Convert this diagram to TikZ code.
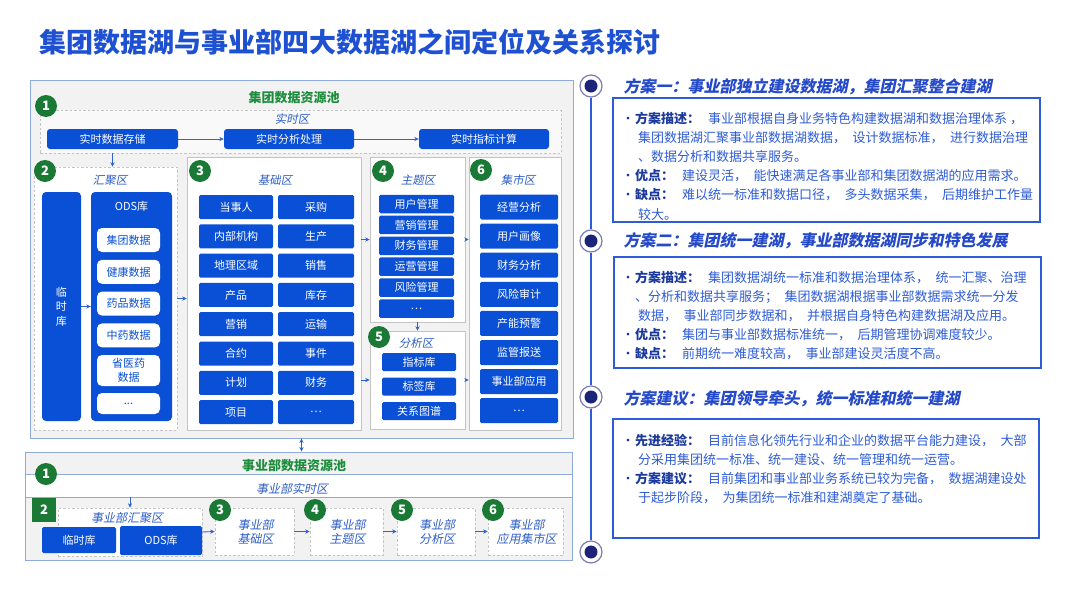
\documentclass[tikz,border=0pt]{standalone}
\usepackage{fontspec}
\setmainfont{Noto Sans CJK SC}
\newfontfamily\slantfont{Noto Sans CJK SC}[FakeSlant=0.2]
\usetikzlibrary{arrows.meta,calc,fit}
\definecolor{cellblue}{HTML}{0A50D6}
\definecolor{titleblue}{HTML}{1E50D2}
\definecolor{labelblue}{HTML}{2F5FC8}
\definecolor{badgegreen}{HTML}{1A7A35}
\definecolor{poolgreen}{HTML}{1E8E3E}
\definecolor{poolgray}{HTML}{F2F2F2}
\definecolor{poolline}{HTML}{8FAADC}
\definecolor{zonegray}{HTML}{C4C4C4}
\definecolor{arrowblue}{HTML}{2F62D0}
\definecolor{panelblue}{HTML}{2D5BDA}
\definecolor{headblue}{HTML}{2449C9}
\definecolor{textblue}{HTML}{2E5CD6}
\definecolor{darkblue}{HTML}{1C3A9E}
\definecolor{ringgray}{HTML}{7A7DB0}
\definecolor{dotnavy}{HTML}{1A2479}

\newcommand\bulletlabel[1]{\makebox[14pt][c]{\color{darkblue}·}{\bfseries\color{darkblue}#1}\hspace{8pt}}
\newcommand\contindent{\hspace*{17pt}}
\newcommand\jgap{\hspace{0.5em}}

\begin{document}
\begin{tikzpicture}[
  x=1pt,
  y=-1pt,
  >={Stealth[length=4.5pt,width=4.2pt]},
  pool/.style={draw=poolline,fill=poolgray,line width=0.9pt,inner sep=0pt},
  zone/.style={draw=zonegray,fill=white,line width=0.6pt,inner sep=0pt},
  dashzone/.style={zone,dash pattern=on 2.5pt off 2pt},
  cell/.style={fill=cellblue,text=white,rounded corners=1.5pt,inner sep=0pt,
    font=\fontsize{11}{13}\selectfont},
  odscell/.style={fill=white,text=cellblue,rounded corners=5pt,minimum width=63pt,
    inner sep=0pt,align=center,font=\fontsize{11}{13.5}\selectfont},
  badge/.style={circle,fill=badgegreen,text=white,minimum size=22pt,inner sep=0pt,
    font=\bfseries\fontsize{13}{13}\selectfont},
  zonelabel/.style={text=labelblue,font=\slantfont\fontsize{11.5}{13}\selectfont},
  pooltitle/.style={text=poolgreen,font=\bfseries\fontsize{13}{15}\selectfont},
  flow/.style={->,draw=arrowblue,line width=0.9pt},
  ring/.style={circle,draw=ringgray,fill=white,line width=1.2pt,minimum size=22pt,
    inner sep=0pt,path picture={\fill[dotnavy] (path picture bounding box.center) circle (6.5pt);}},
  panel/.style={draw=panelblue,fill=white,line width=1.4pt,inner sep=0pt},
  panelhead/.style={anchor=west,text=headblue,font=\slantfont\bfseries\fontsize{16}{18}\selectfont},
  paneltext/.style={anchor=north west,align=left,inner sep=0pt,text=textblue,
    font=\fontsize{13}{19.2}\selectfont}
]
\useasboundingbox (0,0) rectangle (1080,608);
\fill[white] (0,0) rectangle (1080,608);

% Title
\node[anchor=west,text=titleblue,font=\bfseries\fontsize{27}{31}\selectfont] (title)
  at (36,42) {集团数据湖与事业部四大数据湖之间定位及关系探讨};

% Group data pool
\node[pool,fit={(30,80) (573,438)}] (grouppool) {};
\node[pooltitle] (grouptitle) at (294,98) {集团数据资源池};

% Real-time zone
\node[dashzone,fill=white!55!poolgray,fit={(40,110) (561,153)}] (rtzone) {};
\node[zonelabel] (rtlabel) at (292,119) {实时区};
\node[badge] (badge1) at (46,106) {1};
\node[cell,rounded corners=3pt,minimum width=131pt,minimum height=20pt] (rtstore) at (112.5,139) {实时数据存储};
\node[cell,rounded corners=3pt,minimum width=130pt,minimum height=20pt] (rtproc) at (289,139) {实时分析处理};
\node[cell,rounded corners=3pt,minimum width=130pt,minimum height=20pt] (rtcalc) at (484,139) {实时指标计算};
\draw[flow] (rtstore.east) -- (rtproc.west);
\draw[flow] (rtproc.east) -- (rtcalc.west);

% Gathering zone
\node[dashzone,fit={(34,167) (177,430)}] (hjzone) {};
\node[zonelabel] (hjlabel) at (110,180) {汇聚区};
\node[badge] (badge2) at (45,171) {2};
\node[cell,rounded corners=4pt,minimum width=39pt,minimum height=229pt,align=center,
  font=\fontsize{11}{14.5}\selectfont] (lsk) at (61.5,306.5) {临\\时\\库};
\node[cell,rounded corners=4pt,minimum width=81pt,minimum height=229pt] (ods) at (131.5,306.5) {};
\node[text=white,font=\fontsize{11}{13}\selectfont] (odslabel) at (131.5,206) {ODS库};
\foreach \t [count=\i] in {集团数据,健康数据,药品数据,中药数据}{
  \node[odscell,minimum height=24pt] (odsitem\i) at (128.5,{240+(\i-1)*31.8}) {\t};
}
\node[odscell,minimum height=31pt] (odsitem5) at (128.5,370.5) {省医药\\数据};
\node[odscell,minimum height=21pt] (odsitem6) at (128.5,403.5) {...};
\draw[flow] (rtstore.south |- rtzone.south) -- (rtstore.south |- hjzone.north);
\draw[flow] (lsk.east) -- (ods.west);

% Base zone
\node[zone,fit={(187,157) (361,430)}] (jczone) {};
\node[zonelabel] (jclabel) at (275,180) {基础区};
\node[badge] (badge3) at (200,171) {3};
\foreach \a/\b [count=\i] in {当事人/采购,内部机构/生产,地理区域/销售,产品/库存,
                              营销/运输,合约/事件,计划/财务,项目/\ldots}{
  \node[cell,minimum width=74pt,minimum height=24pt] (jcL\i) at (236,{207+(\i-1)*29.3}) {\a};
  \node[cell,minimum width=76pt,minimum height=24pt] (jcR\i) at (316,{207+(\i-1)*29.3}) {\b};
}

% Subject zone
\node[zone,fit={(370,157) (465,322)}] (ztzone) {};
\node[zonelabel] (ztlabel) at (418,180) {主题区};
\node[badge] (badge4) at (383,171) {4};
\foreach \t [count=\i] in {用户管理,营销管理,财务管理,运营管理,风险管理,\ldots}{
  \node[cell,minimum width=75pt,minimum height=18.5pt] (ztitem\i) at (416.5,{204+(\i-1)*20.9}) {\t};
}

% Analysis zone
\node[zone,fit={(370,331) (465,429)}] (fxzone) {};
\node[zonelabel] (fxlabel) at (416,343) {分析区};
\node[badge] (badge5) at (379,337) {5};
\foreach \t [count=\i] in {指标库,标签库,关系图谱}{
  \node[cell,minimum width=74pt,minimum height=18pt] (fxitem\i) at (419,{362+(\i-1)*24.5}) {\t};
}

% Mart zone
\node[zone,fit={(469,157) (561,430)}] (jszone) {};
\node[zonelabel] (jslabel) at (518,180) {集市区};
\node[badge] (badge6) at (481,170) {6};
\foreach \t [count=\i] in {经营分析,用户画像,财务分析,风险审计,产能预警,监管报送,事业部应用,\ldots}{
  \node[cell,minimum width=78pt,minimum height=25pt] (jsitem\i) at (519,{207+(\i-1)*29.1}) {\t};
}

% Flows between zones
\draw[flow] (hjzone.east) -- (hjzone.east -| jczone.west);
\draw[flow] (jczone.east |- ztzone.west) -- (ztzone.west);
\draw[flow] (jczone.east |- fxzone.west) -- (fxzone.west);
\draw[flow] (ztzone.south) -- (fxzone.north);
\draw[flow] (ztzone.east) -- (ztzone.east -| jszone.west);
\draw[flow] (fxzone.east) -- (fxzone.east -| jszone.west);

% Business unit data pool
\node[pool,fill=white,fit={(25,452) (572,560)}] (bupool) {};
\node[pool,fit={(25,452) (572,474)}] (bubar) {};
\node[pool,fit={(25,497) (572,560)}] (bulow) {};
\node[pooltitle] (butitle) at (294,466) {事业部数据资源池};
\node[badge] (bubadge1) at (46,474) {1};
\node[zonelabel,font=\slantfont\fontsize{12}{14}\selectfont] (burtlabel) at (292,489) {事业部实时区};
\draw[<->,draw=arrowblue,line width=0.9pt] (grouppool.south) -- (grouppool.south |- bupool.north);

\node[dashzone,fit={(58,508) (202,556)}] (buhj) {};
\node[zonelabel,font=\slantfont\fontsize{12}{14}\selectfont] (buhjlabel) at (127,518) {事业部汇聚区};
\node[badge,rectangle,minimum size=24pt] (bubadge2) at (44,510) {2};
\node[cell,minimum width=74pt,minimum height=26pt] (bulsk) at (79,540) {临时库};
\node[cell,minimum width=82pt,minimum height=29pt] (buods) at (161,540.5) {ODS库};
\draw[flow] (buhj.north |- bulow.north) -- (buhj.north);

\foreach \nm/\xa/\xb/\t [count=\i from 3] in {bujc/215/294/基础区,buzt/310/383/主题区,
                                              bufx/397/475/分析区,bujs/488/563/应用集市区}{
  \node[dashzone,fit={(\xa,508) (\xb,555)}] (\nm) {};
  \node[zonelabel,align=center,font=\slantfont\fontsize{12}{14}\selectfont] (\nm-label)
    at ($(\nm.center)+(1,0)$) {事业部\\\t};
  \node[badge] (\nm-badge) at (\xa+5,510) {\i};
}
\draw[flow] (buhj.east) -- (bujc.west);
\draw[flow] (bujc.east) -- (buzt.west);
\draw[flow] (buzt.east) -- (bufx.west);
\draw[flow] (bufx.east) -- (bujs.west);

% Timeline
\foreach \y [count=\i] in {86,241,397,552}{
  \node[ring] (ring\i) at (591,\y) {};
}
\draw[draw=panelblue,line width=1.5pt] (ring1) -- (ring2) -- (ring3) -- (ring4);

% Option one
\node[panelhead] (headA) at (620,87) {方案一：事业部独立建设数据湖，集团汇聚整合建湖};
\node[panel,fit={(613,98) (1040,222)}] (panelA) {};
\node[paneltext] (panelAtext) at (621,111.5) {%
  \bulletlabel{方案描述：}事业部根据自身业务特色构建数据湖和数据治理体系 ，\\
  \contindent 集团数据湖汇聚事业部数据湖数据，\jgap 设计数据标准，\jgap 进行数据治理\\
  \contindent 、数据分析和数据共享服务。\\
  \bulletlabel{优点：}建设灵活，\jgap 能快速满足各事业部和集团数据湖的应用需求。\\
  \bulletlabel{缺点：}难以统一标准和数据口径，\jgap 多头数据采集，\jgap 后期维护工作量\\
  \contindent 较大。};

% Option two
\node[panelhead] (headB) at (620,241) {方案二：集团统一建湖，事业部数据湖同步和特色发展};
\node[panel,fit={(614,257) (1041,368)}] (panelB) {};
\node[paneltext] (panelBtext) at (621,270.5) {%
  \bulletlabel{方案描述：}集团数据湖统一标准和数据治理体系，\jgap 统一汇聚、治理\\
  \hspace*{14pt}、分析和数据共享服务；\jgap 集团数据湖根据事业部数据需求统一分发\\
  \contindent 数据，\jgap 事业部同步数据和，\jgap 并根据自身特色构建数据湖及应用。\\
  \bulletlabel{优点：}集团与事业部数据标准统一，\jgap 后期管理协调难度较少。\\
  \bulletlabel{缺点：}前期统一难度较高，\jgap 事业部建设灵活度不高。};

% Recommendation
\node[panelhead] (headC) at (620,399) {方案建议：集团领导牵头，统一标准和统一建湖};
\node[panel,fit={(613,419) (1039,538)}] (panelC) {};
\node[paneltext] (panelCtext) at (621,433.5) {%
  \bulletlabel{先进经验：}目前信息化领先行业和企业的数据平台能力建设，\jgap 大部\\
  \contindent 分采用集团统一标准、统一建设、统一管理和统一运营。\\
  \bulletlabel{方案建议：}目前集团和事业部业务系统已较为完备，\jgap 数据湖建设处\\
  \contindent 于起步阶段，\jgap 为集团统一标准和建湖奠定了基础。};

\end{tikzpicture}
\end{document}
